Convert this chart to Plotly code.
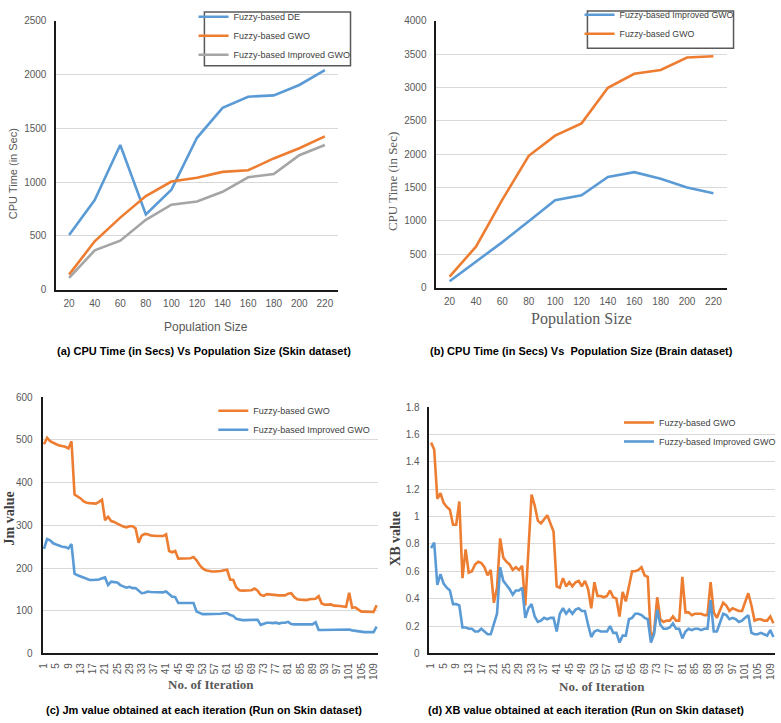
import plotly.graph_objects as go

W, H = 781, 723

# ---------------- data ----------------
pop_sizes = [20, 40, 60, 80, 100, 120, 140, 160, 180, 200, 220]

a_de = [509, 833, 1345, 700, 930, 1412, 1690, 1794, 1806, 1903, 2042]
a_gwo = [140, 450, 670, 870, 1005, 1040, 1095, 1110, 1220, 1315, 1425]
a_igwo = [110, 365, 455, 650, 790, 820, 910, 1045, 1075, 1250, 1345]

b_igwo = [98, 390, 683, 995, 1312, 1385, 1659, 1732, 1634, 1502, 1415]
b_gwo = [166, 615, 1320, 1976, 2278, 2463, 2995, 3205, 3263, 3449, 3468]

iterations = list(range(1, 111))
iter_ticks = list(range(1, 110, 4))

c_gwo = [490, 505, 497, 493, 490, 487, 485, 484, 480, 497,
         372, 368, 363, 356, 353, 352, 351, 351, 355, 360,
         312, 320, 310, 308, 304, 300, 297, 295, 298, 298,
         293, 259, 276, 280, 279, 276, 275, 275, 275, 275,
         279, 240, 237, 240, 222, 222, 222, 222, 223, 226,
         218, 207, 199, 195, 193, 192, 192, 192, 193, 195,
         196, 173, 172, 155, 148, 147, 147, 147, 148, 152,
         147, 137, 135, 139, 138, 137, 137, 136, 136, 136,
         140, 141, 132, 127, 126, 126, 125, 127, 127, 128,
         134, 117, 114, 114, 115, 112, 112, 111, 110, 109,
         142, 107, 108, 103, 98, 98, 98, 98, 97, 113]

c_igwo = [245, 268, 265, 258, 255, 252, 250, 249, 246, 256,
          187, 183, 180, 178, 174, 172, 172, 172, 173, 176,
          178, 160, 168, 167, 166, 160, 157, 154, 156, 153,
          153, 147, 141, 142, 145, 144, 144, 143, 143, 143,
          145, 140, 133, 132, 118, 118, 118, 118, 118, 118,
          98, 94, 92, 92, 92, 92, 92, 92, 93, 94,
          94, 90, 88, 81, 79, 78, 78, 78, 78, 79,
          79, 67, 69, 72, 72, 71, 72, 70, 72, 72,
          74, 69, 68, 68, 68, 68, 68, 68, 68, 73,
          55, 55, 55, 55, 55, 55, 55, 55, 55, 55,
          56, 54, 53, 52, 50, 50, 50, 50, 50, 63]

d_gwo = [1.54, 1.49, 1.13, 1.17, 1.10, 1.07, 1.05, 0.94, 0.94, 1.11,
         0.55, 0.76, 0.59, 0.60, 0.65, 0.67, 0.66, 0.63, 0.57, 0.61,
         0.37, 0.48, 0.84, 0.70, 0.67, 0.65, 0.61, 0.63, 0.61, 0.64,
         0.35, 0.75, 1.16, 1.08, 0.97, 0.95, 0.98, 1.01, 0.95, 0.89,
         0.49, 0.48, 0.55, 0.49, 0.52, 0.49, 0.52, 0.53, 0.49, 0.53,
         0.47, 0.33, 0.52, 0.42, 0.42, 0.41, 0.42, 0.46, 0.41, 0.40,
         0.27, 0.45, 0.38, 0.50, 0.60, 0.60, 0.61, 0.63, 0.57, 0.56,
         0.10, 0.16, 0.41, 0.25, 0.23, 0.24, 0.24, 0.27, 0.24, 0.24,
         0.56, 0.30, 0.30, 0.28, 0.29, 0.29, 0.29, 0.28, 0.28, 0.52,
         0.30, 0.26, 0.32, 0.37, 0.35, 0.31, 0.33, 0.32, 0.31, 0.31,
         0.37, 0.44, 0.35, 0.24, 0.25, 0.25, 0.24, 0.24, 0.27, 0.22]

d_igwo = [0.77, 0.81, 0.50, 0.58, 0.51, 0.48, 0.46, 0.36, 0.36, 0.35,
          0.19, 0.19, 0.18, 0.18, 0.16, 0.16, 0.18, 0.16, 0.14, 0.14,
          0.21, 0.29, 0.63, 0.53, 0.50, 0.47, 0.43, 0.46, 0.46, 0.48,
          0.26, 0.33, 0.36, 0.27, 0.23, 0.24, 0.26, 0.25, 0.26, 0.26,
          0.16, 0.29, 0.33, 0.29, 0.32, 0.29, 0.32, 0.33, 0.31, 0.31,
          0.21, 0.12, 0.16, 0.17, 0.16, 0.16, 0.16, 0.20, 0.15, 0.15,
          0.08, 0.13, 0.13, 0.25, 0.26, 0.29, 0.29, 0.28, 0.26, 0.25,
          0.08, 0.14, 0.32, 0.21, 0.18, 0.18, 0.19, 0.22, 0.18, 0.18,
          0.11, 0.16, 0.18, 0.17, 0.18, 0.18, 0.17, 0.18, 0.18, 0.39,
          0.16, 0.16, 0.22, 0.29, 0.28, 0.25, 0.26, 0.25, 0.23, 0.24,
          0.26, 0.28, 0.15, 0.14, 0.14, 0.15, 0.14, 0.13, 0.17, 0.12]

# ---------------- styling ----------------
BLUE = "#5B9BD5"
ORANGE = "#ED7D31"
GRAY = "#A5A5A5"
TICKC = "#595959"
GRID = "#D9D9D9"
SANS = "Liberation Sans"
SERIF = "Liberation Serif"
LW = 2.6


def px_x(p):
    return p / W


def px_y(p):
    return 1 - p / H


fig = go.Figure()

# (a)
fig.add_trace(go.Scatter(x=pop_sizes, y=a_de, name="Fuzzy-based DE", mode="lines",
                         line=dict(color=BLUE, width=LW), xaxis="x", yaxis="y", legend="legend"))
fig.add_trace(go.Scatter(x=pop_sizes, y=a_gwo, name="Fuzzy-based GWO", mode="lines",
                         line=dict(color=ORANGE, width=LW), xaxis="x", yaxis="y", legend="legend"))
fig.add_trace(go.Scatter(x=pop_sizes, y=a_igwo, name="Fuzzy-based Improved GWO", mode="lines",
                         line=dict(color=GRAY, width=LW), xaxis="x", yaxis="y", legend="legend"))
# (b)
fig.add_trace(go.Scatter(x=pop_sizes, y=b_igwo, name="Fuzzy-based Improved GWO", mode="lines",
                         line=dict(color=BLUE, width=LW), xaxis="x2", yaxis="y2", legend="legend2"))
fig.add_trace(go.Scatter(x=pop_sizes, y=b_gwo, name="Fuzzy-based GWO", mode="lines",
                         line=dict(color=ORANGE, width=LW), xaxis="x2", yaxis="y2", legend="legend2"))
# (c)
fig.add_trace(go.Scatter(x=iterations, y=c_gwo, name="Fuzzy-based GWO", mode="lines",
                         line=dict(color=ORANGE, width=LW), xaxis="x3", yaxis="y3", legend="legend3"))
fig.add_trace(go.Scatter(x=iterations, y=c_igwo, name="Fuzzy-based Improved GWO", mode="lines",
                         line=dict(color=BLUE, width=LW), xaxis="x3", yaxis="y3", legend="legend3"))
# (d)
fig.add_trace(go.Scatter(x=iterations, y=d_gwo, name="Fuzzy-based GWO", mode="lines",
                         line=dict(color=ORANGE, width=LW), xaxis="x4", yaxis="y4", legend="legend4"))
fig.add_trace(go.Scatter(x=iterations, y=d_igwo, name="Fuzzy-based Improved GWO", mode="lines",
                         line=dict(color=BLUE, width=LW), xaxis="x4", yaxis="y4", legend="legend4"))

tickfont = dict(family=SANS, size=10, color=TICKC)


def xax(domain, anchor, rng, tickvals, angle=0):
    return dict(domain=domain, anchor=anchor, range=rng, tickvals=tickvals,
                ticktext=[str(v) for v in tickvals], tickangle=angle,
                showgrid=False, zeroline=False, showline=True, linecolor="#1a1a1a",
                linewidth=1.5, ticks="outside", ticklen=4, tickcolor="rgba(0,0,0,0)",
                tickfont=tickfont, fixedrange=True)


def yax(domain, anchor, rng, dtick):
    return dict(domain=domain, anchor=anchor, range=rng, dtick=dtick,
                showgrid=True, gridcolor=GRID, gridwidth=1, zeroline=False,
                showline=True, linecolor="#1a1a1a", linewidth=1.8,
                ticks="outside", ticklen=6, tickcolor="rgba(0,0,0,0)",
                tickfont=tickfont, fixedrange=True)


def leg(x, top, size=9):
    return dict(x=px_x(x), y=px_y(top), xanchor="left", yanchor="top",
                bgcolor="rgba(0,0,0,0)", borderwidth=0,
                font=dict(family=SANS, size=size, color="#404040"),
                tracegroupgap=0, itemwidth=30)


fig.update_layout(
    width=W, height=H, autosize=False,
    margin=dict(l=0, r=0, t=0, b=0),
    paper_bgcolor="white", plot_bgcolor="white",
    xaxis=xax([px_x(53), px_x(338)], "y", [10, 230], pop_sizes),
    yaxis=yax([px_y(286), px_y(11)], "x", [0, 2500], 500),
    xaxis2=xax([px_x(438), px_x(732)], "y2", [10, 230], pop_sizes),
    yaxis2=yax([px_y(284), px_y(11)], "x2", [0, 4000], 500),
    xaxis3=xax([px_x(39), px_x(379)], "y3", [0.5, 110.5], iter_ticks, -90),
    yaxis3=yax([px_y(658), px_y(396)], "x3", [0, 600], 100),
    xaxis4=xax([px_x(431), px_x(781)], "y4", [0.5, 110.5], iter_ticks, -90),
    yaxis4=yax([px_y(658), px_y(406)], "x4", [0, 1.8], 0.2),
    legend=leg(192, -8),
    legend2=leg(583, -10, 8.8),
    legend3=leg(212, 395),
    legend4=leg(623, 407),
    shapes=[
        dict(type="rect", xref="paper", yref="paper", layer="above",
             x0=px_x(203), x1=px_x(351), y0=px_y(57), y1=px_y(2),
             fillcolor="white", line=dict(color="#595959", width=1.5)),
        dict(type="rect", xref="paper", yref="paper", layer="above",
             x0=px_x(591), x1=px_x(739), y0=px_y(39), y1=px_y(1),
             fillcolor="white", line=dict(color="#595959", width=1.5)),
    ],
)

ann = []


def add_text(text, x, y, size, family, color, bold=False, angle=0):
    t = f"<b>{text}</b>" if bold else text
    ann.append(dict(text=t, x=px_x(x), y=px_y(y), xref="paper", yref="paper",
                    xanchor="center", yanchor="middle", showarrow=False, textangle=angle,
                    font=dict(size=size, family=family, color=color)))


# axis titles
add_text("CPU Time (in Sec)", 9, 167, 11, SANS, TICKC, angle=-90)
add_text("Population Size", 205, 324, 12, SANS, TICKC)
add_text("CPU Time (in Sec)", 393, 175, 13, SERIF, TICKC, angle=-90)
add_text("Population Size", 585, 316, 16, SERIF, TICKC)
add_text("Jm value", 6, 520, 14, SERIF, "#404040", bold=True, angle=-90)
add_text("No. of Iteration", 210, 690, 13, SERIF, "#595959", bold=True)
add_text("XB value", 396, 540, 14, SERIF, "#404040", bold=True, angle=-90)
add_text("No. of Iteration", 606, 692, 13, SERIF, "#595959", bold=True)

# captions
add_text("(a) CPU Time (in Secs) Vs Population Size (Skin dataset)", 203, 349, 11, SANS, "black", bold=True)
add_text("(b) CPU Time (in Secs) Vs  Population Size (Brain dataset)", 585, 349, 11, SANS, "black", bold=True)
add_text("(c) Jm value obtained at each iteration (Run on Skin dataset)", 203, 716, 11, SANS, "black", bold=True)
add_text("(d) XB value obtained at each iteration (Run on Skin dataset)", 590, 716, 11, SANS, "black", bold=True)

fig.update_layout(annotations=ann)

fig.write_html(
    "out.html",
    config={"displayModeBar": False},
    post_script="document.body.style.margin='0px';document.body.style.overflow='hidden';",
)
